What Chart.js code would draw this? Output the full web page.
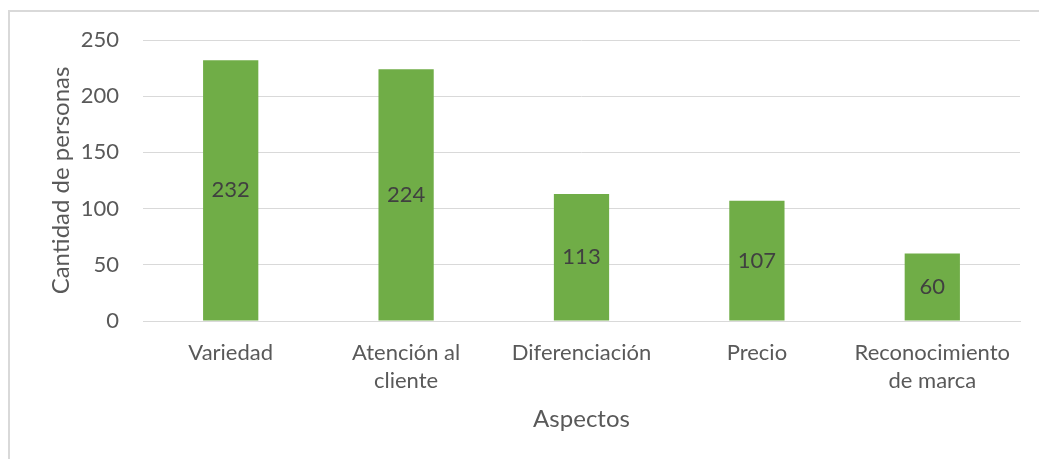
<!DOCTYPE html>
<html lang="es">
<head>
<meta charset="UTF-8">
<title>Aspectos</title>
<script src="https://cdn.jsdelivr.net/npm/chart.js"></script>
<style>
  html, body { margin: 0; padding: 0; background: #fff; overflow: hidden; }
  #frame { position: absolute; left: 8px; top: 10px; width: 1100px; height: 500px; border: 2px solid #d9d9d9; box-sizing: border-box; }
  #wrap { position: absolute; left: 0; top: 0; width: 1039px; height: 459px; }
</style>
</head>
<body>
<div id="frame"></div>
<div id="wrap"><canvas id="chart"></canvas></div>
<script>
// Data
const categories = [['Variedad'], ['Atención al', 'cliente'], ['Diferenciación'], ['Precio'], ['Reconocimiento', 'de marca']];
const personas = [232, 224, 113, 107, 60];
const yTicks = [0, 50, 100, 150, 200, 250];

const FONT = 'Lato, "Open Sans", sans-serif';

// labels in the middle of each bar
const barLabels = {
  id: 'barLabels',
  afterDatasetsDraw(chart) {
    const ctx = chart.ctx;
    const meta = chart.getDatasetMeta(0);
    ctx.save();
    ctx.font = '22px ' + FONT;
    ctx.fillStyle = '#404040';
    ctx.textAlign = 'center';
    ctx.textBaseline = 'middle';
    meta.data.forEach((bar, i) => {
      ctx.fillText(personas[i], bar.x, (bar.y + bar.base) / 2);
    });
    ctx.restore();
  }
};

new Chart(document.getElementById('chart'), {
  type: 'bar',
  data: {
    labels: categories,
    datasets: [{
      data: personas,
      backgroundColor: '#70ad47',
      barPercentage: 1,
      categoryPercentage: 0.315
    }]
  },
  plugins: [barLabels],
  options: {
    responsive: true,
    maintainAspectRatio: false,
    animation: false,
    layout: { padding: { left: 43, right: 19, top: 40, bottom: 21 } },
    plugins: { legend: { display: false }, tooltip: { enabled: false } },
    scales: {
      x: {
        grid: { display: false, drawTicks: false },
        border: { color: '#d9d9d9', width: 1 },
        ticks: { color: '#595959', font: { family: FONT, size: 22, lineHeight: 1.27 }, padding: 18, maxRotation: 0 },
        title: { display: true, text: 'Aspectos', color: '#595959', font: { family: FONT, size: 24 } },
        afterFit(scale) { scale.height = 117; }
      },
      y: {
        min: 0, max: 250,
        afterBuildTicks(scale) { scale.ticks = yTicks.map(v => ({ value: v })); },
        grid: { color: '#d9d9d9', drawTicks: false },
        border: { display: false },
        ticks: { color: '#595959', font: { family: FONT, size: 22 }, padding: 24 },
        title: { display: true, text: 'Cantidad de personas', color: '#595959', font: { family: FONT, size: 24 } },
        afterFit(scale) { scale.width = 100; }
      }
    }
  }
});
</script>
</body>
</html>
